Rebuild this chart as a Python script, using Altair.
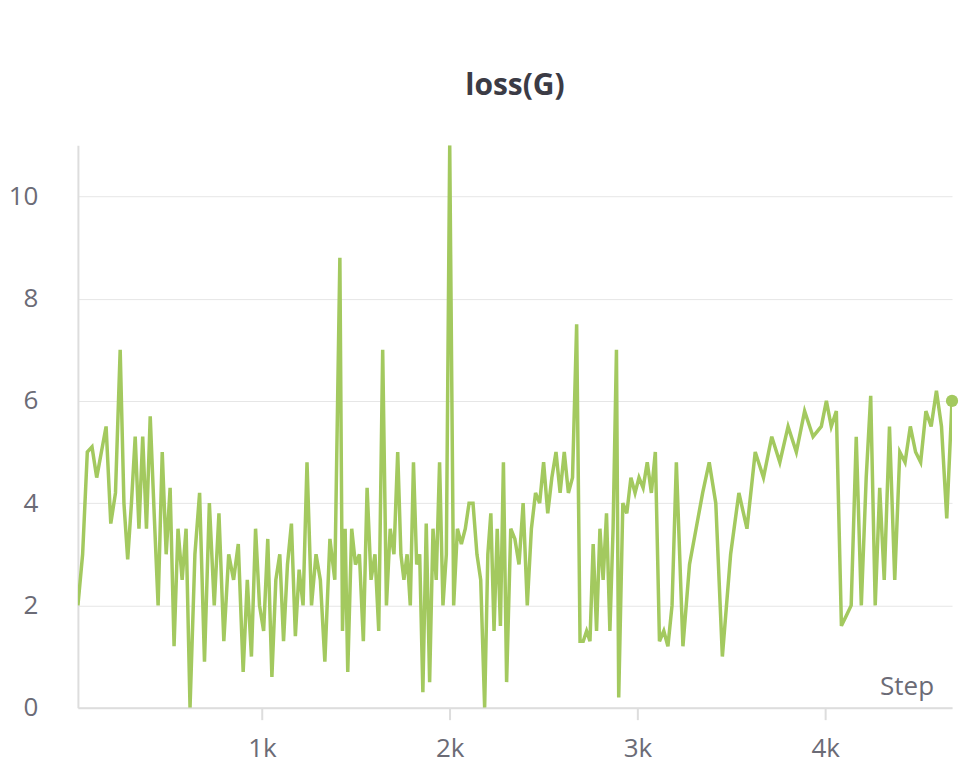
import altair as alt
import numpy as np
import pandas as pd

# loss(G) values, in logging order
loss_g = [
    2.0, 3.0, 5.0, 5.1, 4.5, 5.0, 5.5, 3.6, 4.2, 7.0, 4.0, 2.9, 4.0, 5.3, 3.5, 5.3, 3.5, 5.7,
    3.8, 2.0, 5.0, 3.0, 4.3, 1.2, 3.5, 2.5, 3.5, 0.0, 3.0, 4.2, 0.9, 4.0, 2.0, 3.8, 1.3, 3.0,
    2.5, 3.2, 0.7, 2.5, 1.0, 3.5, 2.0, 1.5, 3.3, 0.6, 2.5, 3.0, 1.3, 2.8, 3.6, 1.4, 2.7, 2.0,
    4.8, 2.0, 3.0, 2.5, 0.9, 3.3, 2.5, 8.8, 1.5, 3.5, 0.7, 3.5, 2.8, 3.0, 1.3, 4.3, 2.5, 3.0,
    1.5, 7.0, 2.0, 3.5, 3.0, 5.0, 3.0, 2.5, 3.0, 2.0, 4.8, 2.8, 3.0, 0.3, 3.6, 0.5, 3.5, 2.5,
    4.8, 2.0, 3.0, 11.0, 2.0, 3.5, 3.2, 3.5, 4.0, 4.0, 3.0, 2.5, 0.0, 3.0, 3.8, 1.5, 3.5, 1.6,
    4.8, 0.5, 3.5, 3.3, 2.8, 4.0, 2.0, 3.5, 4.2, 4.0, 4.8, 3.8, 4.5, 5.0, 4.2, 5.0, 4.2, 4.5,
    7.5, 1.3, 1.3, 1.5, 1.3, 3.2, 1.5, 3.5, 2.5, 3.8, 1.5, 3.5, 7.0, 0.2, 4.0, 3.8, 4.5, 4.2,
    4.5, 4.3, 4.8, 4.2, 5.0, 1.3, 1.5, 1.2, 2.0, 4.8, 1.2, 2.8, 3.5, 4.2, 4.8, 4.0, 1.0, 3.0,
    4.2, 3.5, 5.0, 4.5, 5.3, 4.8, 5.5, 5.0, 5.8, 5.3, 5.5, 6.0, 5.5, 5.8, 1.6, 1.8, 2.0, 5.3,
    2.0, 4.5, 6.1, 2.0, 4.3, 2.5, 5.5, 2.5, 5.0, 4.8, 5.5, 5.0, 4.8, 5.8, 5.5, 6.2, 5.5, 3.7,
    6.0,
]
# steps read for some recognisable points (index in loss_g -> step)
anchor_idx = [0, 9, 17, 27, 38, 45, 54, 58, 61, 64, 73, 77, 85, 93, 102, 109, 126, 138,
              139, 149, 153, 160, 169, 172, 175, 181, 185, 198]
anchor_step = [20, 245, 405, 617, 900, 1053, 1240, 1335, 1415, 1457, 1643, 1723, 1857, 2000,
               2186, 2303, 2676, 2888, 2900, 3117, 3207, 3452, 3846, 3979, 4059, 4218, 4314, 4675]
steps = np.interp(np.arange(len(loss_g)), anchor_idx, anchor_step).round()

df = pd.DataFrame({"step": steps, "loss": loss_g})
green = "#a3c95f"
font = "Open Sans"

x = alt.X("step:Q", scale=alt.Scale(domain=[20, 4675], nice=False, zero=False),
          axis=alt.Axis(values=[1000, 2000, 3000, 4000], labelExpr="datum.value / 1000 + 'k'",
                        grid=False, tickSize=12, tickColor="#dddddd", tickWidth=2,
                        domainColor="#dddddd", domainWidth=2, labelPadding=16,
                        labelFontSize=26, labelColor="#6b6b76", labelFont=font, title=None))
y = alt.Y("loss:Q", scale=alt.Scale(domain=[0, 11], nice=False),
          axis=alt.Axis(values=[0, 2, 4, 6, 8, 10], gridColor="#e6e6e6", ticks=False,
                        domainColor="#dddddd", domainWidth=2, labelPadding=40,
                        labelFontSize=26, labelColor="#6b6b76", labelFont=font, title=None))

line = alt.Chart(df).mark_line(color=green, strokeWidth=3.5, clip=True).encode(x=x, y=y)
dot = alt.Chart(df.tail(1)).mark_point(color=green, filled=True, size=150, opacity=1).encode(x=x, y=y)
step_label = alt.Chart(df.tail(1)).mark_text(
    text="Step", align="right", baseline="bottom", dx=-18, fontSize=26, font=font, color="#6b6b76"
).encode(x=alt.value(875), y=alt.value(555))

chart = (line + dot + step_label).properties(
    width=875, height=563,
    padding={"top": 63, "left": 0, "right": 5, "bottom": 0},
    title=alt.TitleParams("loss(G)", fontSize=30, font=font, fontWeight="bold",
                          color="#3b3b45", offset=44),
).configure_view(stroke=None)

chart.save("out.html", embed_options={"renderer": "svg", "actions": False})
